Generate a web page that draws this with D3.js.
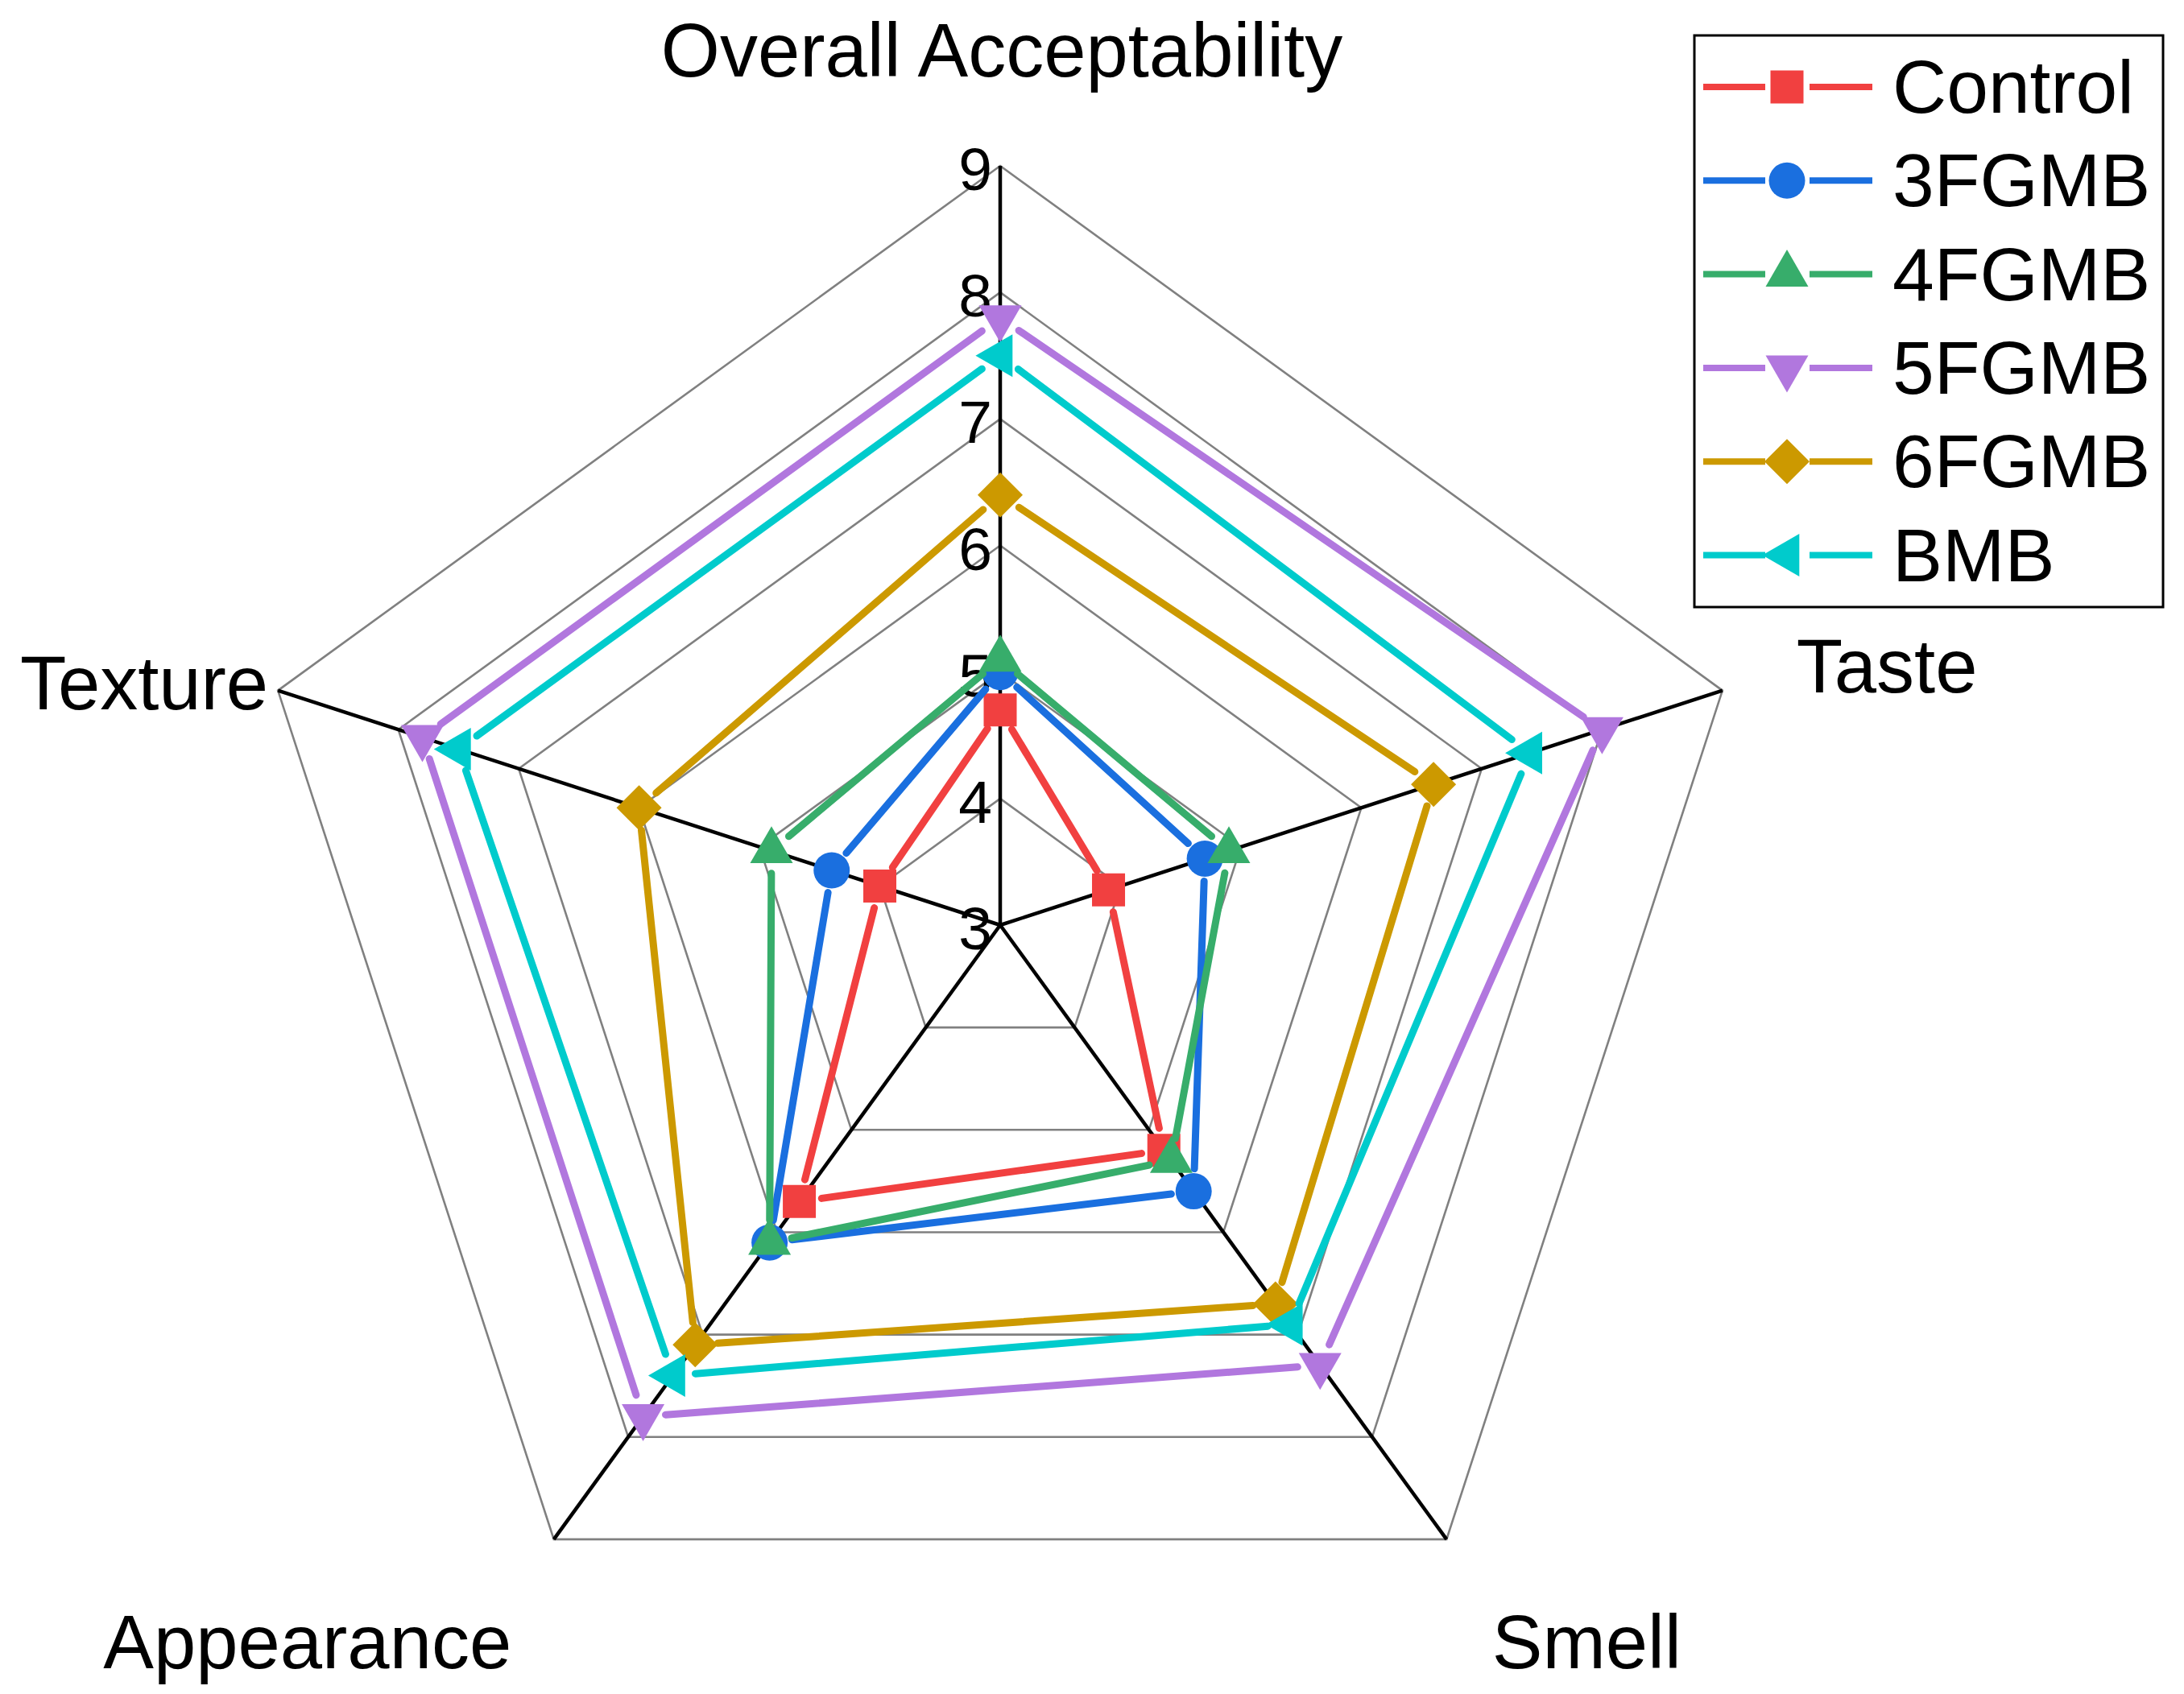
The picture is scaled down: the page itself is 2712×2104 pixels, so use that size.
<!DOCTYPE html>
<html>
<head>
<meta charset="utf-8">
<script src="https://cdn.jsdelivr.net/npm/d3@7"></script>
<style>
  html, body { margin: 0; padding: 0; background: #fff; }
  svg { display: block; font-family: Arial, 'Liberation Sans', sans-serif; }
</style>
</head>
<body>
<svg id="svg" width="2712" height="2104"></svg>
<script>
  // axes, clockwise from the top
  var axes = ['Overall Acceptability', 'Taste', 'Smell', 'Appearance', 'Texture'];
  var ticks = [3, 4, 5, 6, 7, 8, 9];

  var seriesNames = ['Control', '3FGMB', '4FGMB', '5FGMB', '6FGMB', 'BMB'];
  var control = [4.7, 3.9, 5.2, 5.7, 4.0];
  var fgmb3   = [5.0, 4.7, 5.6, 6.1, 4.4];
  var fgmb4   = [5.1, 4.9, 5.3, 6.1, 4.9];
  var fgmb5   = [7.8, 8.0, 7.3, 7.8, 7.8];
  var fgmb6   = [6.4, 6.6, 6.7, 7.1, 6.0];
  var bmb     = [7.5, 7.4, 6.9, 7.4, 7.5];

  var colors = ['#F14040', '#1A6FDF', '#37AD6B', '#B177DE', '#CC9900', '#00CBCC'];

  var svg = d3.select('#svg'),
      cx = 1242, cy = 1149,
      gap = 28;

  var r = d3.scaleLinear().domain([3, 9]).range([0, 943]);
  var angle = d3.scaleLinear().domain([0, axes.length]).range([0, 2 * Math.PI]);

  function pt(i, v) {
    var a = angle(i), rr = r(v);
    return { x: cx + rr * Math.sin(a), y: cy - rr * Math.cos(a) };
  }

  // symbols: square, circle, up, down, diamond, left
  var symbols = [
    { type: d3.symbolSquare, size: 1681, rot: 0 },
    { type: d3.symbolCircle, size: 1590, rot: 0 },
    { type: d3.symbolTriangle, size: 1216, rot: 0 },
    { type: d3.symbolTriangle, size: 1216, rot: 180 },
    { type: d3.symbolSquare, size: 1568, rot: 45 },
    { type: d3.symbolTriangle, size: 1216, rot: -90 }
  ];

  // ==== grid
  var grid = svg.append('g');
  ticks.slice(1).forEach(function (t) {
    grid.append('polygon')
      .attr('points', axes.map(function (d, i) { var p = pt(i, t); return p.x + ',' + p.y; }).join(' '))
      .attr('fill', 'none')
      .attr('stroke', '#808080')
      .attr('stroke-width', 2.6);
  });
  axes.forEach(function (d, i) {
    var p = pt(i, 9);
    grid.append('line')
      .attr('x1', cx).attr('y1', cy).attr('x2', p.x).attr('y2', p.y)
      .attr('stroke', '#000').attr('stroke-width', 4.5);
  });

  // tick labels on the top axis
  svg.append('g').selectAll('text').data(ticks).enter().append('text')
    .attr('x', cx - 10)
    .attr('y', function (d) { return pt(0, d).y + 4; })
    .attr('text-anchor', 'end')
    .attr('dominant-baseline', 'central')
    .attr('font-size', 75)
    .text(function (d) { return d; });

  // axis titles
  var labelPos = [
    { dx: 2, dy: -111, anchor: 'middle' },
    { dx: 92, dy: 2, anchor: 'start' },
    { dx: 174, dy: 160, anchor: 'middle' },
    { dx: -306, dy: 160, anchor: 'middle' },
    { dx: -12, dy: 23, anchor: 'end' }
  ];
  svg.append('g').selectAll('text').data(axes).enter().append('text')
    .attr('x', function (d, i) { return pt(i, 9).x + labelPos[i].dx; })
    .attr('y', function (d, i) { return pt(i, 9).y + labelPos[i].dy; })
    .attr('text-anchor', function (d, i) { return labelPos[i].anchor; })
    .attr('font-size', 94)
    .text(function (d) { return d; });

  // ==== series
  function gapLine(g, a, b, color) {
    var dx = b.x - a.x, dy = b.y - a.y, len = Math.sqrt(dx * dx + dy * dy);
    if (len < 2 * gap + 2) return;
    var ux = dx / len, uy = dy / len;
    g.append('line')
      .attr('x1', a.x + ux * gap).attr('y1', a.y + uy * gap)
      .attr('x2', b.x - ux * gap).attr('y2', b.y - uy * gap)
      .attr('stroke', color)
      .attr('stroke-width', 9)
      .attr('stroke-linecap', 'round');
  }

  function symbolPath(s) {
    return d3.symbol().type(s.type).size(s.size)();
  }

  var allSeries = [control, fgmb3, fgmb4, fgmb5, fgmb6, bmb];
  allSeries.forEach(function (vals, k) {
    var g = svg.append('g');
    var pts = vals.map(function (v, i) { return pt(i, v); });
    pts.forEach(function (p, i) { gapLine(g, p, pts[(i + 1) % pts.length], colors[k]); });
    g.selectAll('path').data(pts).enter().append('path')
      .attr('d', symbolPath(symbols[k]))
      .attr('fill', colors[k])
      .attr('transform', function (d) { return 'translate(' + d.x + ',' + d.y + ') rotate(' + symbols[k].rot + ')'; });
  });

  // ==== legend
  var legend = svg.append('g');
  legend.append('rect')
    .attr('x', 2104).attr('y', 44).attr('width', 582).attr('height', 710)
    .attr('fill', 'none').attr('stroke', '#000').attr('stroke-width', 3);
  seriesNames.forEach(function (name, k) {
    var y = 108 + k * 116.3;
    legend.append('line').attr('x1', 2115).attr('x2', 2192).attr('y1', y).attr('y2', y)
      .attr('stroke', colors[k]).attr('stroke-width', 8);
    legend.append('line').attr('x1', 2247).attr('x2', 2325).attr('y1', y).attr('y2', y)
      .attr('stroke', colors[k]).attr('stroke-width', 8);
    legend.append('path')
      .attr('d', symbolPath(symbols[k]))
      .attr('fill', colors[k])
      .attr('transform', 'translate(2219,' + y + ') rotate(' + symbols[k].rot + ')');
    legend.append('text')
      .attr('x', 2350).attr('y', y)
      .attr('dominant-baseline', 'central')
      .attr('font-size', 93)
      .text(name);
  });
</script>
</body>
</html>
